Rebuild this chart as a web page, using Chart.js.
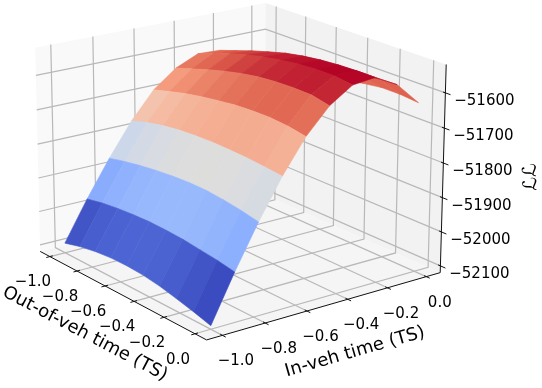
<!DOCTYPE html>
<html>
<head>
<meta charset="utf-8">
<title>Log-likelihood surface</title>
<script src="https://cdn.jsdelivr.net/npm/chart.js@4"></script>
<style>
    html, body { margin: 0; padding: 0; background: #fff; }
    canvas { display: block; }
</style>
</head>
<body>
<canvas id="surfaceChart" width="542" height="388"></canvas>
<script>
// Surface data
const outVehGrid = [-1, -0.889, -0.778, -0.667, -0.556, -0.444, -0.333, -0.222, -0.111, 0];
const inVehGrid = [-1, -0.889, -0.778, -0.667, -0.556, -0.444, -0.333, -0.222, -0.111, 0];

// one row per in-veh value, one column per out-of-veh value
const logLik = [
    [-52091, -52078, -52069, -52064, -52063, -52066, -52073, -52084, -52096, -52110],
    [-51975, -51965, -51959, -51955, -51953, -51954, -51957, -51963, -51969, -51978],
    [-51869, -51858, -51849, -51842, -51837, -51834, -51834, -51839, -51846, -51856],
    [-51773, -51758, -51747, -51740, -51736, -51734, -51735, -51737, -51741, -51746],
    [-51695, -51681, -51668, -51658, -51650, -51643, -51640, -51639, -51643, -51652],
    [-51644, -51628, -51612, -51598, -51586, -51577, -51572, -51570, -51571, -51582],
    [-51615, -51595, -51578, -51564, -51552, -51543, -51536, -51532, -51532, -51539],
    [-51618, -51601, -51584, -51569, -51555, -51545, -51538, -51534, -51532, -51532],
    [-51651, -51640, -51630, -51619, -51609, -51598, -51587, -51578, -51568, -51566],
    [-51708, -51692, -51679, -51666, -51653, -51643, -51633, -51626, -51626, -51631]
];

const outVehTicks = [-1, -0.8, -0.6, -0.4, -0.2, 0];
const inVehTicks = [-1, -0.8, -0.6, -0.4, -0.2, 0];
const llTicks = [-52100, -52000, -51900, -51800, -51700, -51600];

// Box limits of the 3D axes
const boxMin = [-1.0729, -1.0729, -52120];
const boxMax = [0.0729, 0.0729, -51520];

// Where the box corners land on the page: u, v, w, px, py
const boxAnchors = [
    [0, 0, 0, 40, 251],
    [1, 0, 0, 207, 340],
    [1, 1, 0, 440, 273],
    [0, 0, 1, 35, 48],
    [1, 1, 1, 446, 64],
    [0, 1, 1, 266, 3]
];

// coolwarm colormap stops
const coolwarm = [
    [59, 76, 192], [98, 130, 234], [141, 176, 254], [186, 208, 249], [221, 221, 221],
    [245, 193, 169], [244, 154, 123], [222, 96, 77], [180, 4, 38]
];

// Solve the perspective camera from the anchors (least squares)
function solveCamera() {
    const n = 11;
    const m = Array.from({ length: n }, () => Array(n + 1).fill(0));
    const addRow = (r, b) => {
        for (let a = 0; a < n; a++) {
            for (let c = 0; c < n; c++) m[a][c] += r[a] * r[c];
            m[a][n] += r[a] * b;
        }
    };
    boxAnchors.forEach(([u, v, w, px, py]) => {
        addRow([u, v, w, 1, 0, 0, 0, 0, -px * u, -px * v, -px * w], px);
        addRow([0, 0, 0, 0, u, v, w, 1, -py * u, -py * v, -py * w], py);
    });
    for (let i = 0; i < n; i++) {
        let p = i;
        for (let r = i; r < n; r++) if (Math.abs(m[r][i]) > Math.abs(m[p][i])) p = r;
        [m[i], m[p]] = [m[p], m[i]];
        for (let r = 0; r < n; r++) {
            if (r === i) continue;
            const f = m[r][i] / m[i][i];
            for (let c = i; c <= n; c++) m[r][c] -= f * m[i][c];
        }
    }
    return m.map((r, i) => r[n] / r[i]);
}
const cam = solveCamera();

function project(x, y, z) {
    const u = (x - boxMin[0]) / (boxMax[0] - boxMin[0]);
    const v = (y - boxMin[1]) / (boxMax[1] - boxMin[1]);
    const w = (z - boxMin[2]) / (boxMax[2] - boxMin[2]);
    const d = cam[8] * u + cam[9] * v + cam[10] * w + 1;
    return {
        x: (cam[0] * u + cam[1] * v + cam[2] * w + cam[3]) / d,
        y: (cam[4] * u + cam[5] * v + cam[6] * w + cam[7]) / d
    };
}

function coolwarmColor(t) {
    const pos = Math.max(0, Math.min(1, t)) * (coolwarm.length - 1);
    const i = Math.min(Math.floor(pos), coolwarm.length - 2);
    const f = pos - i;
    const c = coolwarm[i].map((a, k) => Math.round(a + (coolwarm[i + 1][k] - a) * f));
    return `rgb(${c[0]},${c[1]},${c[2]})`;
}

const polygon = (pts, color) => ({
    data: [...pts, pts[0]].map(p => project(p[0], p[1], p[2])),
    showLine: true, fill: 'shape', backgroundColor: color,
    borderWidth: 0, pointRadius: 0
});
const polyline = (pts, color, width) => ({
    data: pts.map(p => project(p[0], p[1], p[2])),
    showLine: true, fill: false, borderColor: color,
    borderWidth: width, pointRadius: 0
});

// Everything is collected back to front
const layers = [];
const [x0, y0, z0] = boxMin;
const [x1, y1, z1] = boxMax;

// Panes
layers.push(polygon([[x0, y0, z0], [x0, y1, z0], [x0, y1, z1], [x0, y0, z1]], '#f9f9f9'));
layers.push(polygon([[x0, y1, z0], [x1, y1, z0], [x1, y1, z1], [x0, y1, z1]], '#f2f2f2'));
layers.push(polygon([[x0, y0, z0], [x1, y0, z0], [x1, y1, z0], [x0, y1, z0]], '#f5f5f5'));

// Grid lines
const gridColor = '#b8b8b8';
outVehTicks.forEach(t => layers.push(polyline([[t, y0, z0], [t, y1, z0], [t, y1, z1]], gridColor, 1.2)));
inVehTicks.forEach(t => layers.push(polyline([[x1, t, z0], [x0, t, z0], [x0, t, z1]], gridColor, 1.2)));
llTicks.forEach(t => layers.push(polyline([[x0, y0, t], [x0, y1, t], [x1, y1, t]], gridColor, 1.2)));

// Axis lines and tick marks
layers.push(polyline([[x0, y0, z0], [x1, y0, z0], [x1, y1, z0], [x1, y1, z1]], '#111', 1));
const spanX = x1 - x0, spanY = y1 - y0;
outVehTicks.forEach(t => layers.push(polyline([[t, y0 - 0.015 * spanY, z0], [t, y0 + 0.012 * spanY, z0]], '#111', 1)));
inVehTicks.forEach(t => layers.push(polyline([[x1 + 0.018 * spanX, t, z0], [x1 - 0.012 * spanX, t, z0]], '#111', 1)));
llTicks.forEach(t => layers.push(polyline([[x1 - 0.012 * spanX, y1, t], [x1 + 0.026 * spanX, y1, t]], '#111', 1)));

// Colour comes from each patch's mean height, stretched over all the patches
const patchMeans = [];
for (let j = 0; j < inVehGrid.length - 1; j++) {
    for (let i = 0; i < outVehGrid.length - 1; i++) {
        patchMeans.push((logLik[j][i] + logLik[j][i + 1] + logLik[j + 1][i] + logLik[j + 1][i + 1]) / 4);
    }
}
const meanLow = Math.min(...patchMeans);
const meanHigh = Math.max(...patchMeans);

// Far rows first, then from the far side of each row
for (let j = inVehGrid.length - 2; j >= 0; j--) {
    for (let i = 0; i < outVehGrid.length - 1; i++) {
        const mean = (logLik[j][i] + logLik[j][i + 1] + logLik[j + 1][i] + logLik[j + 1][i + 1]) / 4;
        const color = coolwarmColor((mean - meanLow) / (meanHigh - meanLow));
        const patch = polygon([
            [outVehGrid[i], inVehGrid[j], logLik[j][i]],
            [outVehGrid[i + 1], inVehGrid[j], logLik[j][i + 1]],
            [outVehGrid[i + 1], inVehGrid[j + 1], logLik[j + 1][i + 1]],
            [outVehGrid[i], inVehGrid[j + 1], logLik[j + 1][i]]
        ], color);
        // thin edge in the same colour hides the seams between patches
        patch.borderColor = color;
        patch.borderWidth = 0.6;
        layers.push(patch);
    }
}

const fmtTick = (v, digits) => (v < 0 ? '\u2212' : '') + Math.abs(v).toFixed(digits);

// Tick labels and axis titles live in the projected 3D frame
const axisText = {
    id: 'axisText',
    afterDraw(chart) {
        const ctx = chart.ctx;
        const label = (text, px, py, font, angle) => {
            ctx.save();
            ctx.translate(px, py);
            ctx.rotate((angle || 0) * Math.PI / 180);
            ctx.font = font;
            ctx.fillStyle = '#000';
            ctx.textAlign = 'center';
            ctx.textBaseline = 'middle';
            ctx.fillText(text, 0, 0);
            ctx.restore();
        };
        const tickFont = '15px "DejaVu Sans"';
        outVehTicks.forEach(t => {
            const p = project(t, y0, z0);
            label(fmtTick(t, 1), p.x - 17, p.y + 26, tickFont);
        });
        inVehTicks.forEach(t => {
            const p = project(x1, t, z0);
            label(fmtTick(t, 1), p.x + 13.5, p.y + 26, tickFont);
        });
        llTicks.forEach(t => {
            const p = project(x1, y1, t);
            label(fmtTick(t, 0), p.x + 39, p.y + 8, tickFont);
        });
        label('Out-of-veh time (TS)', 85, 334, '18px "DejaVu Sans"', 27.7);
        label('In-veh time (TS)', 355, 352, '18px "DejaVu Sans"', -16);
        label('\u2112\u2112', 531, 177, '19px "DejaVu Sans"', -92);
    }
};

new Chart(document.getElementById('surfaceChart'), {
    type: 'scatter',
    data: { datasets: layers.reverse() }, // Chart.js paints the first dataset last
    options: {
        responsive: false,
        animation: false,
        events: [],
        layout: { padding: 0 },
        plugins: { legend: { display: false }, tooltip: { enabled: false } },
        scales: {
            x: { type: 'linear', min: 0, max: 542, display: false },
            y: { type: 'linear', min: 0, max: 388, reverse: true, display: false }
        }
    },
    plugins: [axisText]
});
</script>
</body>
</html>
